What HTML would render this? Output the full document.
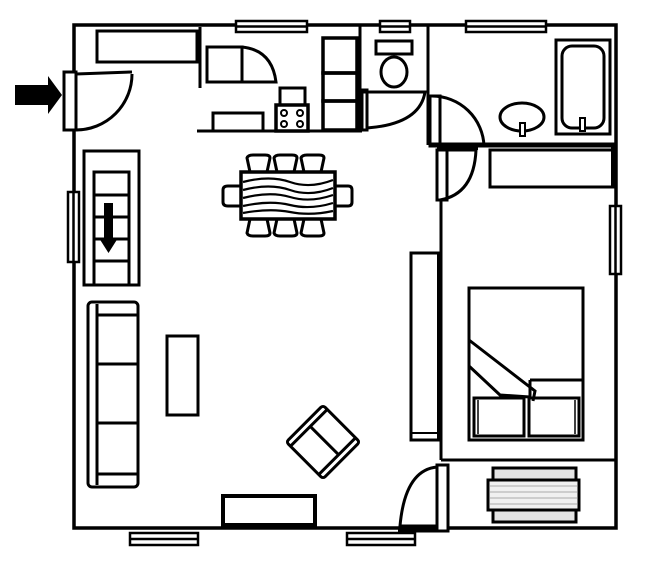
<!DOCTYPE html>
<html><head><meta charset="utf-8"><style>html,body{margin:0;padding:0;background:#fff}svg{display:block}</style></head><body>
<svg width="653" height="575" viewBox="0 0 653 575" xmlns="http://www.w3.org/2000/svg" fill="none" stroke="#000" stroke-width="3">
<path d="M74 25 H616 V528 H74 Z" stroke-width="3.5"/>
<g fill="#fff" stroke-width="2.5">
<rect x="236" y="21" width="71" height="11"/><line x1="236" y1="26.5" x2="307" y2="26.5"/>
<rect x="380" y="21" width="30" height="11"/><line x1="380" y1="26.5" x2="410" y2="26.5"/>
<rect x="466" y="21" width="80" height="11"/><line x1="466" y1="26.5" x2="546" y2="26.5"/>
<rect x="68" y="192" width="11" height="70"/><line x1="73.5" y1="192" x2="73.5" y2="262"/>
<rect x="610" y="206" width="11" height="68"/><line x1="615.5" y1="206" x2="615.5" y2="274"/>
<rect x="130" y="533" width="68" height="12"/><line x1="130" y1="539" x2="198" y2="539"/>
<rect x="347" y="533" width="68" height="12"/><line x1="347" y1="539" x2="415" y2="539"/>
</g>
<rect x="64" y="72" width="12" height="58" fill="#fff"/>
<path d="M76 74 L132 72 M76 130 A56 56 0 0 0 132 74"/>
<path d="M15 85 H48 V76 L62 95 L48 114 V105 H15 Z" fill="#000" stroke="none"/>
<rect x="97" y="31" width="100" height="31"/>
<line x1="200" y1="27" x2="200" y2="88"/>
<rect x="207" y="47" width="35" height="35"/>
<path d="M242 47 Q272 50 276 82 H242"/>
<line x1="197" y1="131" x2="362" y2="131"/>
<rect x="213" y="113" width="50" height="18"/>
<rect x="280" y="88" width="25" height="17"/>
<rect x="276" y="105" width="32" height="26" stroke-width="3.5"/>
<g fill="none" stroke-width="2"><circle cx="284" cy="113" r="3"/><circle cx="300" cy="113" r="3"/><circle cx="284" cy="124" r="3"/><circle cx="300" cy="124" r="3"/></g>
<rect x="323" y="38" width="34" height="35" stroke-width="3.5"/>
<rect x="323" y="73" width="34" height="28" stroke-width="3.5"/>
<rect x="323" y="101" width="34" height="29" stroke-width="3.5"/>
<line x1="360" y1="25" x2="360" y2="131"/>
<rect x="376" y="41" width="36" height="13"/>
<ellipse cx="394" cy="72" rx="13" ry="15"/>
<rect x="362" y="90" width="5" height="40" fill="#fff"/>
<path d="M362 92 H425 Q420 124 367 128"/>
<line x1="428" y1="25" x2="428" y2="145"/>
<rect x="430" y="96" width="10" height="50" fill="#fff"/>
<path d="M432 96 A52 52 0 0 1 484 146"/>
<line x1="430" y1="145" x2="616" y2="145" stroke-width="5"/>
<ellipse cx="522" cy="117" rx="22" ry="14"/>
<rect x="520" y="123" width="5" height="13" fill="#fff" stroke-width="2"/>
<rect x="556" y="40" width="54" height="94"/>
<rect x="562" y="46" width="42" height="82" rx="10"/>
<rect x="580" y="118" width="5" height="13" fill="#fff" stroke-width="2"/>
<rect x="490" y="150" width="123" height="37"/>
<line x1="613" y1="145" x2="613" y2="187" stroke-width="4"/>
<rect x="437" y="150" width="10" height="50" fill="#fff"/>
<path d="M439 150 H476 Q474 194 440 200"/>
<line x1="441" y1="200" x2="441" y2="460"/>
<line x1="437" y1="148" x2="478" y2="148" stroke-width="4"/>
<rect x="411" y="253" width="28" height="187"/>
<line x1="411" y1="433" x2="439" y2="433" stroke-width="2"/>
<line x1="439" y1="253" x2="439" y2="440" stroke-width="4"/>
<line x1="441" y1="460" x2="616" y2="460"/>
<rect x="469" y="288" width="114" height="152"/>
<path d="M469 340 L535 391 L533 401 M469 366 L500 395 L530 397"/>
<path d="M530 380 H583"/>
<line x1="530" y1="380" x2="530" y2="398"/>
<rect x="474" y="398" width="50" height="38"/>
<rect x="529" y="398" width="50" height="38"/>
<line x1="478" y1="400" x2="478" y2="434" stroke-width="1.5"/>
<line x1="575" y1="400" x2="575" y2="434" stroke-width="1.5"/>
<rect x="493" y="468" width="83" height="12" fill="#e4e4e4"/>
<rect x="488" y="480" width="91" height="30" fill="#f0f0f0"/>
<rect x="493" y="510" width="83" height="12" fill="#e4e4e4"/>
<g stroke="#aaa" stroke-width="1"><line x1="490" y1="486" x2="577" y2="486"/><line x1="490" y1="492" x2="577" y2="492"/><line x1="490" y1="498" x2="577" y2="498"/><line x1="490" y1="504" x2="577" y2="504"/></g>
<rect x="437" y="465" width="11" height="66" fill="#fff"/>
<path d="M437 467 Q405 470 400 526 H437 V531 H398"/>
<rect x="84" y="151" width="55" height="134"/>
<rect x="94" y="172" width="35" height="113"/>
<line x1="94" y1="195" x2="129" y2="195"/><line x1="94" y1="217" x2="129" y2="217"/><line x1="94" y1="239" x2="129" y2="239"/><line x1="94" y1="261" x2="129" y2="261"/>
<path d="M104 203 H113 V238 H118 L108.5 253 L99 238 H104 Z" fill="#000" stroke="none"/>
<rect x="88" y="302" width="50" height="185" rx="4"/>
<line x1="97" y1="304" x2="97" y2="485"/>
<line x1="97" y1="315" x2="138" y2="315"/><line x1="97" y1="364" x2="138" y2="364"/><line x1="97" y1="423" x2="138" y2="423"/><line x1="97" y1="474" x2="138" y2="474"/>
<rect x="167" y="336" width="31" height="79"/>
<rect x="223" y="496" width="92" height="29" stroke-width="4"/>
<g transform="translate(323 442) rotate(45)">
<rect x="-26" y="-26" width="52" height="52" rx="3"/>
<line x1="-20" y1="-26" x2="-20" y2="26"/>
<line x1="20" y1="-26" x2="20" y2="26"/>
<line x1="-20" y1="-2" x2="20" y2="-2"/>
</g>
<g stroke-width="3">
<path d="M250 172 L247 158 Q248 155 253 155 H265 Q270 155 270 158 L267 172"/>
<path d="M277 172 L274 158 Q275 155 280 155 H292 Q297 155 297 158 L294 172"/>
<path d="M304 172 L301 158 Q302 155 307 155 H319 Q324 155 324 158 L321 172"/>
<path d="M250 219 L247 233 Q248 236 253 236 H265 Q270 236 270 233 L267 219"/>
<path d="M277 219 L274 233 Q275 236 280 236 H292 Q297 236 297 233 L294 219"/>
<path d="M304 219 L301 233 Q302 236 307 236 H319 Q324 236 324 233 L321 219"/>
<path d="M241 186 H228 Q223 186 223 190 V202 Q223 206 228 206 H241"/>
<path d="M335 186 H348 Q352 186 352 190 V202 Q352 206 348 206 H335"/>
<rect x="241" y="172" width="94" height="47" stroke-width="3.5"/>
<g stroke-width="2.2"><path d="M243 182 Q270 175 290 182 T333 180"/><path d="M243 190 Q270 183 290 190 T333 188"/><path d="M243 198 Q270 191 290 197 T333 195"/><path d="M243 206 Q270 200 290 205 T333 203"/><path d="M243 213 Q270 208 290 212 T333 211"/></g>
</g>
</svg>
</body></html>
